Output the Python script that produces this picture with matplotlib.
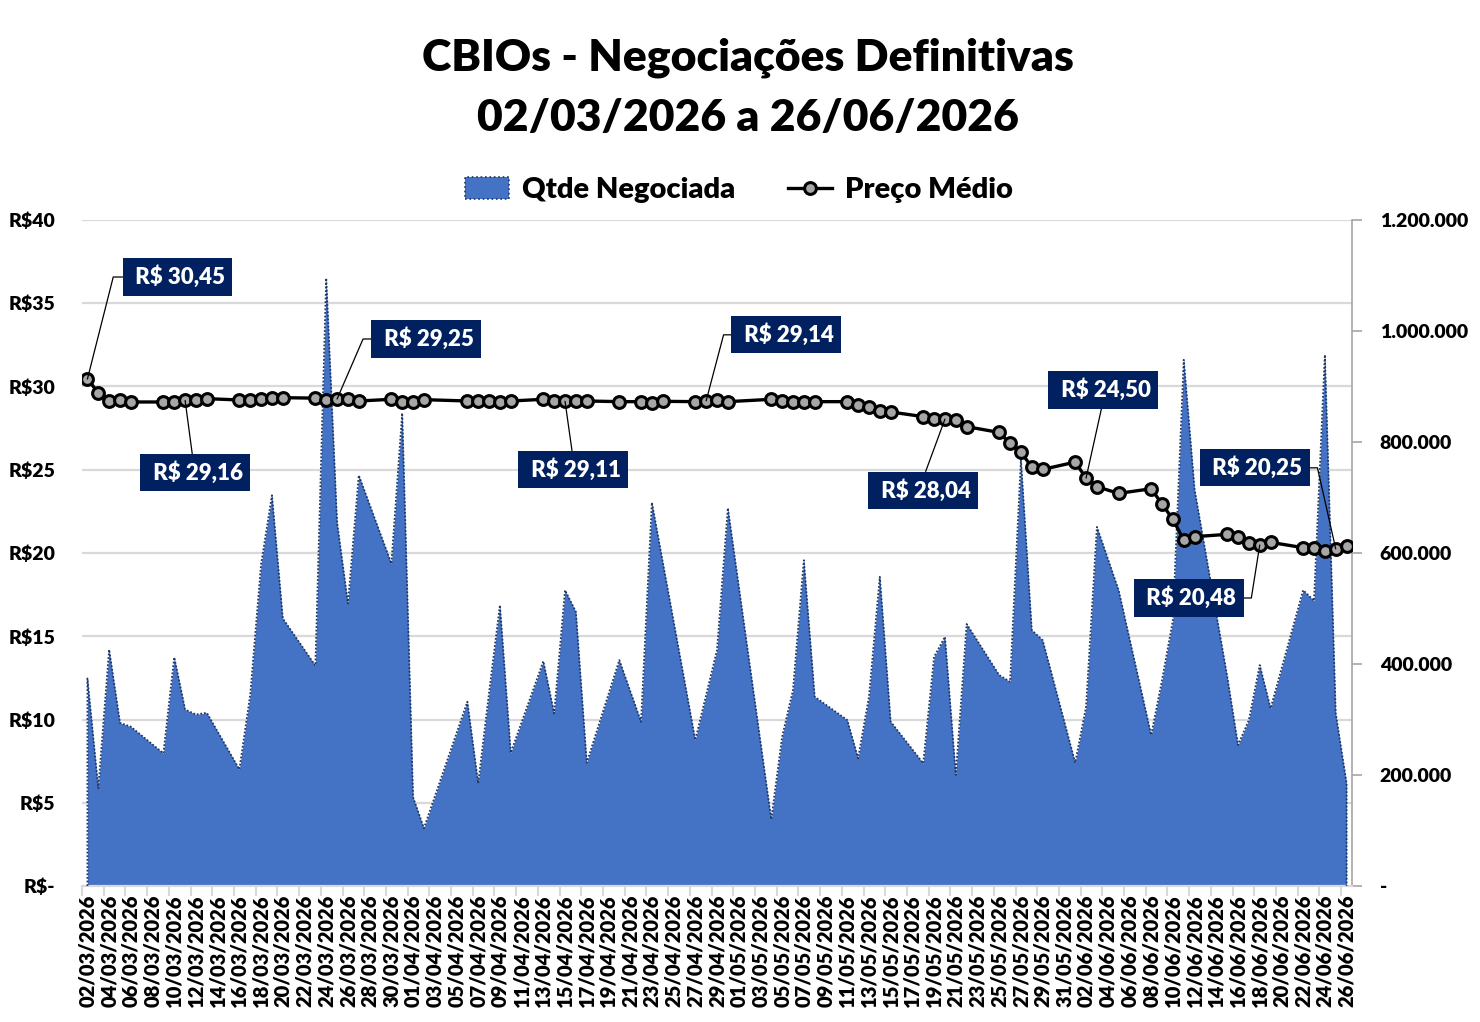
import numpy as np
import pandas as pd
import matplotlib
matplotlib.use('Agg')
import matplotlib.pyplot as plt
import matplotlib.dates as mdates
from matplotlib.patches import Patch
from matplotlib.lines import Line2D
from matplotlib.ticker import FuncFormatter

plt.rcParams['font.family'] = ['Lato', 'DejaVu Sans']

# dias de negociação
datas = [
    '02/03/2026', '03/03/2026', '04/03/2026', '05/03/2026', '06/03/2026',
    '09/03/2026', '10/03/2026', '11/03/2026', '12/03/2026', '13/03/2026',
    '16/03/2026', '17/03/2026', '18/03/2026', '19/03/2026', '20/03/2026',
    '23/03/2026', '24/03/2026', '25/03/2026', '26/03/2026', '27/03/2026',
    '30/03/2026', '31/03/2026', '01/04/2026', '02/04/2026',
    '06/04/2026', '07/04/2026', '08/04/2026', '09/04/2026', '10/04/2026',
    '13/04/2026', '14/04/2026', '15/04/2026', '16/04/2026', '17/04/2026',
    '20/04/2026', '22/04/2026', '23/04/2026', '24/04/2026',
    '27/04/2026', '28/04/2026', '29/04/2026', '30/04/2026',
    '04/05/2026', '05/05/2026', '06/05/2026', '07/05/2026', '08/05/2026',
    '11/05/2026', '12/05/2026', '13/05/2026', '14/05/2026', '15/05/2026',
    '18/05/2026', '19/05/2026', '20/05/2026', '21/05/2026', '22/05/2026',
    '25/05/2026', '26/05/2026', '27/05/2026', '28/05/2026', '29/05/2026',
    '01/06/2026', '02/06/2026', '03/06/2026', '05/06/2026',
    '08/06/2026', '09/06/2026', '10/06/2026', '11/06/2026', '12/06/2026',
    '15/06/2026', '16/06/2026', '17/06/2026', '18/06/2026', '19/06/2026',
    '22/06/2026', '23/06/2026', '24/06/2026', '25/06/2026', '26/06/2026',
]

qtde = [
    374000, 176000, 426000, 294000, 287000,
    239000, 412000, 318000, 309000, 312000,
    210000, 345000, 580000, 704000, 482000,
    397000, 1095000, 655000, 509000, 740000,
    581000, 852000, 160000, 104000,
    332000, 185000, 348000, 506000, 240000,
    405000, 311000, 533000, 494000, 222000,
    407000, 296000, 691000, 584000,
    263000, 344000, 425000, 681000,
    120000, 269000, 353000, 587000, 341000,
    299000, 230000, 341000, 557000, 296000,
    221000, 413000, 449000, 200000, 472000,
    380000, 368000, 768000, 461000, 443000,
    222000, 323000, 647000, 533000,
    272000, 371000, 479000, 948000, 714000,
    378000, 254000, 299000, 398000, 320000,
    533000, 514000, 957000, 311000, 185000,
]

preco = [
    30.45, 29.63, 29.15, 29.19, 29.07,
    29.07, 29.07, 29.16, 29.16, 29.27,
    29.19, 29.19, 29.25, 29.33, 29.33,
    29.30, 29.19, 29.25, 29.25, 29.13,
    29.23, 29.09, 29.09, 29.21,
    29.13, 29.13, 29.13, 29.07, 29.13,
    29.23, 29.13, 29.11, 29.13, 29.13,
    29.09, 29.09, 29.03, 29.11,
    29.09, 29.14, 29.17, 29.09,
    29.23, 29.13, 29.07, 29.09, 29.09,
    29.09, 28.89, 28.75, 28.53, 28.47,
    28.19, 28.07, 28.04, 27.97, 27.59,
    27.24, 26.58, 26.04, 25.18, 25.02,
    25.46, 24.50, 23.98, 23.58,
    23.86, 22.94, 22.02, 20.78, 20.98,
    21.12, 20.94, 20.58, 20.48, 20.64,
    20.32, 20.32, 20.14, 20.25, 20.44,
]

# rótulos: (data, deslocamento em px dx, dy, relpos, angulo da guia ou None)
rotulos = [
    ('02/03/2026', 90, 102, (0, 0.5), 75.8),
    ('11/03/2026', 10, -72, (0.48, 1), None),
    ('25/03/2026', 89, 60, (0, 0.5), 66.6),
    ('15/04/2026', 8, -68, (0.5, 1), None),
    ('28/04/2026', 80, 66, (0, 0.5), 75.2),
    ('20/05/2026', -22, -71, (0.5, 1), None),
    ('02/06/2026', 17, 88, (0.5, 0), None),
    ('25/06/2026', -81, 81, (1, 0.5), 102.7),
    ('18/06/2026', -71, -53, (1, 0.5), 81.0),
]

precos_ticks = [0, 5, 10, 15, 20, 25, 30, 35, 40]
qtde_ticks = [0, 200000, 400000, 600000, 800000, 1000000, 1200000]

PESO = 'heavy'

x = pd.to_datetime(datas, format='%d/%m/%Y')
xn = mdates.date2num(x)

fig = plt.figure(figsize=(14.8, 10.22), dpi=100)
ax1 = fig.add_axes([82 / 1480, 136 / 1022, 1270 / 1480, 666 / 1022])
ax2 = ax1.twinx()

# grade (atrás da área)
for p in precos_ticks[1:]:
    ax1.axhline(p / 40 * 1200000, color='#D9D9D9', lw=1.6, zorder=0)

# área
poly_x = np.concatenate([[xn[0]], xn, [xn[-1]]])
poly_y = np.concatenate([[0], qtde, [0]])
ax1.fill_between(xn, qtde, 0, color='#4472C4', lw=0, zorder=2)
ax1.plot(poly_x, poly_y, color='#1F3864', lw=1.3, ls=(0, (1, 1)), zorder=3)

ax1.set_xlim(xn[0] - 0.5, xn[-1] + 0.5)
ax1.set_ylim(0, 1200000)
ax1.yaxis.tick_right()
ax1.set_yticks(qtde_ticks)
ax1.yaxis.set_major_formatter(FuncFormatter(
    lambda v, p: '-' if v == 0 else f'{int(v):,}'.replace(',', '.')))
ax1.tick_params(axis='y', which='major', direction='out', length=7,
                color='#A6A6A6', width=1.2, pad=13, labelsize=14)

ticks_x = pd.date_range(x[0], x[-1], freq='2D')
ax1.set_xticks(mdates.date2num(ticks_x))
ax1.xaxis.set_major_formatter(mdates.DateFormatter('%d/%m/%Y'))
ax1.set_xticks(mdates.date2num(ticks_x) - 0.5, minor=True)
ax1.tick_params(axis='x', which='major', length=0, pad=6, labelsize=14.5,
                labelrotation=90)
ax1.tick_params(axis='x', which='minor', length=7, color='#D9D9D9', width=1.5)

for lab in ax1.get_xticklabels() + ax1.get_yticklabels():
    lab.set_fontweight(PESO)

for s in ['top', 'left']:
    ax1.spines[s].set_visible(False)
ax1.spines['right'].set_color('#A6A6A6')
ax1.spines['right'].set_linewidth(1.2)
ax1.spines['bottom'].set_color('#D9D9D9')
ax1.spines['bottom'].set_linewidth(1.6)

# preço médio
ax2.plot(xn, preco, color='black', lw=2.4, marker='o', ms=8.5,
         mfc='#A6A6A6', mec='black', mew=2.2, zorder=5)
ax2.set_ylim(0, 40)
ax2.yaxis.tick_left()
ax2.set_yticks(precos_ticks)
ax2.yaxis.set_major_formatter(FuncFormatter(
    lambda v, p: 'R$-' if v == 0 else f'R${int(v)}'))
ax2.tick_params(axis='y', length=0, pad=19, labelsize=14)
for lab in ax2.get_yticklabels():
    lab.set_fontweight(PESO)
for s in ax2.spines.values():
    s.set_visible(False)

# rótulos de dados
for d, dx, dy, rp, ang in rotulos:
    i = datas.index(d)
    txt = ' R$ ' + f'{preco[i]:.2f}'.replace('.', ',')
    if ang is None:
        cs = 'arc3,rad=0'
    else:
        cs = f'angle,angleA=0,angleB={ang},rad=0'
    ax2.annotate(txt, xy=(xn[i], preco[i]), xytext=(dx, dy),
                 textcoords='offset pixels', ha='center', va='center',
                 color='white', fontsize=16, fontweight=PESO, zorder=7,
                 bbox=dict(boxstyle='square,pad=0.33', fc='#002060', ec='none'),
                 arrowprops=dict(arrowstyle='-', color='black', lw=0.9,
                                 connectionstyle=cs, relpos=rp,
                                 shrinkA=0, shrinkB=0))

# título
fig.text(748 / 1480, 1 - 58 / 1022, 'CBIOs - Negociações Definitivas',
         ha='center', va='center', fontsize=32, fontweight=PESO)
fig.text(748 / 1480, 1 - 118 / 1022, '02/03/2026 a 26/06/2026',
         ha='center', va='center', fontsize=32, fontweight=PESO)

# legenda
h1 = Patch(facecolor='#4472C4', edgecolor='#1F3864', linestyle=':', linewidth=1.2)
h2 = Line2D([], [], color='black', lw=2.4, marker='o', ms=8.5,
            mfc='#A6A6A6', mec='black', mew=2.2)
fig.legend([h1, h2], ['Qtde Negociada', 'Preço Médio'], loc='center',
           bbox_to_anchor=(739 / 1480, 1 - 190 / 1022), ncol=2, frameon=False,
           prop={'size': 21, 'weight': PESO}, handlelength=1.5,
           handleheight=0.8, columnspacing=1.8, handletextpad=0.45)

fig.savefig('out.png', dpi=100)
